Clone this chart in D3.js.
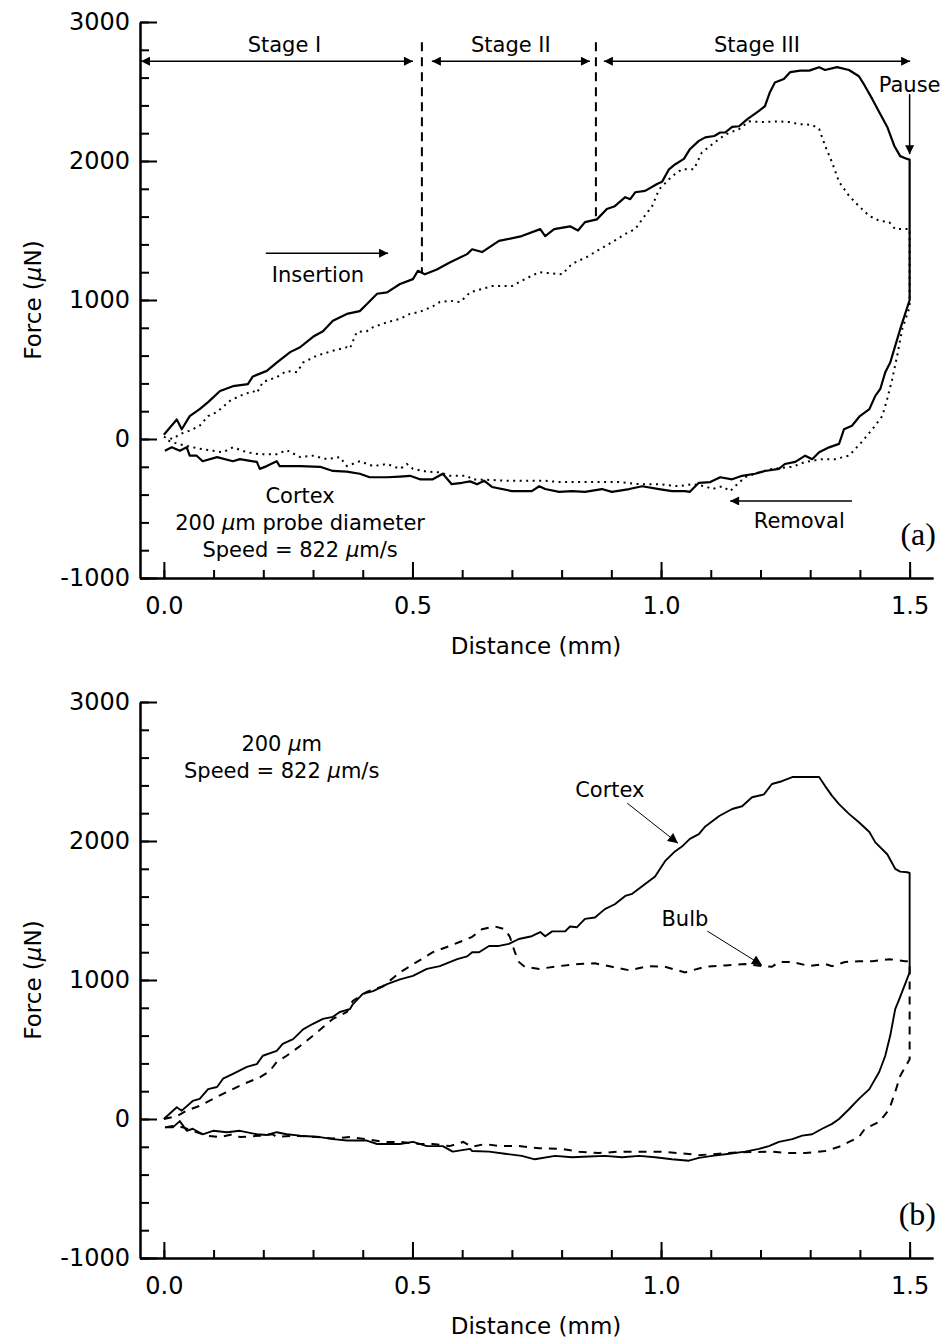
<!DOCTYPE html>
<html>
<head>
<meta charset="utf-8">
<script src="https://cdn.jsdelivr.net/npm/d3@7"></script>
<style>
body { margin: 0; background: #fff; }
svg text { font-family: "DejaVu Sans", sans-serif; fill: #000; }
</style>
</head>
<body>
<script>
// distance (mm), force (uN)

// (a) cortex, solid line
const cortexInA = [[0.000,30],[0.026,140],[0.036,70],[0.052,165],[0.072,215],[0.089,265],[0.113,345],[0.139,380],[0.169,395],[0.179,450],[0.207,490],[0.227,550],[0.254,625],[0.274,660],[0.300,735],[0.320,775],[0.340,850],[0.368,900],[0.394,920],[0.408,970],[0.429,1045],[0.449,1055],[0.475,1115],[0.501,1150],[0.511,1210],[0.525,1185],[0.549,1220],[0.575,1270],[0.610,1330],[0.620,1365],[0.640,1345],[0.674,1425],[0.720,1460],[0.757,1510],[0.767,1460],[0.785,1510],[0.817,1530],[0.833,1500],[0.847,1560],[0.871,1580],[0.891,1655],[0.907,1675],[0.928,1740],[0.938,1725],[0.948,1775],[0.968,1785],[0.992,1835],[1.002,1850],[1.016,1940],[1.028,1975],[1.046,2015],[1.058,2085],[1.076,2145],[1.089,2170],[1.107,2180],[1.119,2205],[1.129,2205],[1.143,2245],[1.157,2250],[1.173,2300],[1.197,2360],[1.209,2395],[1.219,2495],[1.229,2565],[1.247,2590],[1.260,2640],[1.280,2650],[1.298,2650],[1.318,2675],[1.330,2655],[1.354,2675],[1.378,2655],[1.398,2610],[1.410,2540],[1.425,2445],[1.439,2350],[1.455,2245],[1.469,2110],[1.481,2035],[1.495,2015],[1.500,2010]];
const cortexOutA = [[1.500,1000],[1.481,790],[1.471,670],[1.461,550],[1.451,480],[1.441,360],[1.431,310],[1.419,215],[1.400,165],[1.384,95],[1.368,70],[1.358,-35],[1.338,-60],[1.318,-95],[1.304,-145],[1.290,-120],[1.270,-165],[1.249,-180],[1.237,-215],[1.209,-230],[1.189,-250],[1.163,-265],[1.143,-290],[1.119,-275],[1.099,-310],[1.076,-315],[1.058,-380],[1.048,-375],[1.022,-375],[0.996,-360],[0.962,-340],[0.936,-360],[0.901,-380],[0.881,-360],[0.847,-380],[0.821,-375],[0.795,-380],[0.767,-360],[0.755,-340],[0.740,-375],[0.700,-375],[0.660,-345],[0.644,-300],[0.630,-325],[0.616,-305],[0.600,-315],[0.579,-325],[0.561,-250],[0.541,-290],[0.515,-290],[0.495,-265],[0.475,-270],[0.449,-275],[0.414,-275],[0.394,-250],[0.368,-235],[0.340,-230],[0.314,-200],[0.274,-195],[0.233,-195],[0.227,-160],[0.207,-195],[0.193,-215],[0.187,-165],[0.153,-145],[0.139,-160],[0.107,-130],[0.078,-160],[0.066,-120],[0.052,-120],[0.046,-60],[0.032,-85],[0.016,-60],[0.002,-85]];

// (a) second run, dotted line
const dottedInA = [[0.000,15],[0.018,0],[0.032,35],[0.052,60],[0.072,95],[0.089,165],[0.107,195],[0.133,275],[0.153,310],[0.179,345],[0.187,330],[0.199,410],[0.227,445],[0.247,490],[0.268,480],[0.280,550],[0.308,600],[0.340,635],[0.368,660],[0.374,650],[0.388,770],[0.408,775],[0.421,805],[0.449,840],[0.475,865],[0.495,900],[0.515,915],[0.541,955],[0.555,985],[0.575,995],[0.596,985],[0.616,1055],[0.660,1100],[0.700,1100],[0.726,1150],[0.755,1200],[0.801,1185],[0.821,1260],[0.851,1310],[0.877,1365],[0.901,1415],[0.928,1475],[0.948,1510],[0.962,1580],[0.982,1675],[0.996,1795],[1.022,1890],[1.042,1940],[1.066,1940],[1.082,2060],[1.103,2120],[1.129,2190],[1.157,2230],[1.177,2285],[1.203,2280],[1.237,2285],[1.258,2280],[1.278,2265],[1.304,2260],[1.318,2230],[1.330,2110],[1.344,1990],[1.358,1850],[1.378,1750],[1.398,1675],[1.419,1605],[1.439,1570],[1.459,1560],[1.471,1510],[1.491,1510],[1.500,1510]];
const dottedOutA = [[1.500,950],[1.485,790],[1.475,600],[1.465,430],[1.455,290],[1.445,165],[1.425,70],[1.404,-20],[1.378,-120],[1.350,-145],[1.324,-145],[1.290,-165],[1.264,-200],[1.223,-215],[1.197,-240],[1.169,-275],[1.149,-340],[1.139,-375],[1.123,-340],[1.103,-360],[1.089,-340],[1.062,-325],[1.036,-340],[0.996,-325],[0.956,-325],[0.915,-310],[0.875,-310],[0.835,-310],[0.795,-310],[0.767,-300],[0.726,-300],[0.686,-300],[0.660,-295],[0.620,-290],[0.610,-265],[0.575,-265],[0.555,-240],[0.529,-235],[0.501,-215],[0.489,-180],[0.475,-215],[0.449,-180],[0.421,-195],[0.394,-160],[0.368,-195],[0.354,-130],[0.328,-145],[0.300,-120],[0.274,-130],[0.247,-80],[0.227,-110],[0.193,-110],[0.167,-95],[0.139,-60],[0.119,-95],[0.099,-85],[0.072,-70],[0.046,-50],[0.018,-25],[0.002,0]];

// (b) cortex, solid line
const cortexInB = [[0.000,0],[0.026,85],[0.036,60],[0.058,130],[0.072,145],[0.089,215],[0.107,230],[0.119,290],[0.139,325],[0.167,375],[0.187,395],[0.199,455],[0.227,490],[0.239,540],[0.260,575],[0.280,645],[0.300,685],[0.320,720],[0.340,735],[0.354,770],[0.374,790],[0.380,825],[0.400,900],[0.421,920],[0.449,970],[0.475,1005],[0.501,1030],[0.529,1080],[0.555,1100],[0.590,1150],[0.610,1170],[0.620,1200],[0.634,1200],[0.654,1245],[0.674,1245],[0.694,1260],[0.714,1295],[0.740,1315],[0.757,1345],[0.767,1315],[0.781,1350],[0.807,1350],[0.817,1385],[0.831,1380],[0.847,1440],[0.867,1450],[0.887,1510],[0.907,1545],[0.928,1605],[0.942,1620],[0.968,1690],[0.988,1745],[1.008,1855],[1.028,1925],[1.042,1960],[1.058,2015],[1.076,2050],[1.089,2105],[1.117,2180],[1.143,2230],[1.163,2250],[1.183,2315],[1.207,2335],[1.223,2410],[1.243,2430],[1.264,2460],[1.290,2460],[1.318,2460],[1.330,2395],[1.344,2325],[1.358,2265],[1.378,2195],[1.398,2135],[1.419,2065],[1.431,1990],[1.455,1905],[1.471,1800],[1.481,1780],[1.495,1775],[1.500,1770]];
const cortexOutB = [[1.500,1055],[1.479,860],[1.471,790],[1.461,600],[1.451,455],[1.439,340],[1.419,215],[1.398,145],[1.378,70],[1.358,0],[1.344,-35],[1.324,-70],[1.304,-110],[1.284,-120],[1.264,-145],[1.237,-165],[1.217,-195],[1.197,-215],[1.169,-235],[1.137,-250],[1.103,-265],[1.076,-280],[1.056,-300],[1.022,-290],[0.988,-275],[0.956,-265],[0.922,-275],[0.887,-265],[0.855,-270],[0.821,-275],[0.787,-265],[0.746,-290],[0.720,-265],[0.686,-250],[0.654,-235],[0.620,-230],[0.616,-215],[0.581,-235],[0.561,-195],[0.529,-195],[0.501,-165],[0.475,-180],[0.429,-180],[0.408,-155],[0.368,-155],[0.340,-145],[0.314,-130],[0.274,-120],[0.247,-110],[0.227,-95],[0.207,-115],[0.187,-110],[0.153,-85],[0.127,-95],[0.099,-85],[0.078,-110],[0.058,-70],[0.046,-85],[0.032,-15],[0.018,-60],[0.002,-60]];

// (b) bulb, dashed line
const bulbInB = [[0.000,0],[0.026,20],[0.046,60],[0.072,95],[0.099,145],[0.127,195],[0.159,250],[0.193,300],[0.213,345],[0.227,410],[0.247,455],[0.274,525],[0.300,600],[0.320,660],[0.340,720],[0.368,770],[0.380,850],[0.408,915],[0.441,955],[0.475,1055],[0.509,1130],[0.541,1200],[0.575,1245],[0.610,1295],[0.620,1310],[0.640,1365],[0.666,1385],[0.686,1365],[0.696,1310],[0.706,1200],[0.714,1130],[0.726,1095],[0.755,1080],[0.795,1100],[0.835,1115],[0.867,1120],[0.901,1095],[0.936,1070],[0.976,1100],[1.008,1095],[1.048,1055],[1.089,1095],[1.129,1105],[1.169,1115],[1.203,1100],[1.223,1095],[1.237,1130],[1.264,1130],[1.298,1100],[1.330,1115],[1.344,1100],[1.370,1130],[1.398,1135],[1.425,1135],[1.459,1150],[1.491,1135],[1.500,1135]];
const bulbOutB = [[1.500,430],[1.481,310],[1.471,195],[1.459,70],[1.439,-20],[1.410,-70],[1.398,-130],[1.378,-165],[1.358,-200],[1.330,-230],[1.290,-245],[1.258,-245],[1.223,-235],[1.157,-240],[1.117,-250],[1.076,-260],[1.036,-245],[0.996,-235],[0.915,-235],[0.875,-245],[0.835,-235],[0.801,-215],[0.755,-210],[0.714,-195],[0.674,-195],[0.646,-180],[0.620,-200],[0.602,-165],[0.575,-195],[0.541,-180],[0.515,-180],[0.475,-165],[0.441,-165],[0.408,-145],[0.374,-130],[0.340,-140],[0.308,-130],[0.260,-120],[0.227,-130],[0.219,-110],[0.193,-120],[0.153,-130],[0.139,-110],[0.113,-130],[0.087,-120],[0.066,-95],[0.038,-60],[0.018,-50],[0.002,-60]];

const xMajor = [0, 0.5, 1.0, 1.5];
const yMajor = [-1000, 0, 1000, 2000, 3000];
const stageBounds = [0.519, 0.869];
const stageLabels = ["Stage I", "Stage II", "Stage III"];

const svg = d3.select("body")
	.append("svg")
	.attr("width", 944)
	.attr("height", 1341);

const defs = svg.append("defs");
defs.append("marker")
	.attr("id", "head")
	.attr("viewBox", "0 0 10 10")
	.attr("refX", 10).attr("refY", 5)
	.attr("markerUnits", "userSpaceOnUse")
	.attr("markerWidth", 13).attr("markerHeight", 9)
	.attr("orient", "auto-start-reverse")
	.append("path").attr("d", "M0,0L10,5L0,10z").attr("fill", "#000");
defs.append("marker")
	.attr("id", "head2")
	.attr("viewBox", "0 0 10 10")
	.attr("refX", 10).attr("refY", 5)
	.attr("markerUnits", "userSpaceOnUse")
	.attr("markerWidth", 14).attr("markerHeight", 10)
	.attr("orient", "auto")
	.append("path").attr("d", "M0,0L10,5L0,10z").attr("fill", "#000");

const x = d3.scaleLinear().domain([-0.048, 1.547]).range([140, 933]);
const y = d3.scaleLinear().domain([-1000, 3000]).range([578, 22]);
const line = d3.line().x(d => x(d[0])).y(d => y(d[1]));

function axes(g) {
	const style = a => a.attr("font-family", "DejaVu Sans").attr("font-size", 24)
		.call(s => s.selectAll("line, path").attr("stroke", "#000").attr("stroke-width", 2));
	g.append("g").attr("transform", "translate(0,578)")
		.call(d3.axisBottom(x).tickValues(d3.range(0, 1.55, 0.1)).tickSizeInner(-8).tickSizeOuter(0).tickFormat(""))
		.call(style);
	g.append("g").attr("transform", "translate(0,578)")
		.call(d3.axisBottom(x).tickValues(xMajor).tickSizeInner(-16).tickSizeOuter(0).tickPadding(19).tickFormat(d3.format(".1f")))
		.call(style);
	g.append("g").attr("transform", "translate(140,0)")
		.call(d3.axisLeft(y).tickValues(d3.range(-1000, 3001, 200)).tickSizeInner(-9).tickSizeOuter(0).tickFormat(""))
		.call(style);
	g.append("g").attr("transform", "translate(140,0)")
		.call(d3.axisLeft(y).tickValues(yMajor).tickSizeInner(-17).tickSizeOuter(0).tickPadding(10).tickFormat(d => String(d)))
		.call(style);

	g.append("text")
		.attr("transform", "translate(41,300) rotate(-90)")
		.attr("text-anchor", "middle")
		.attr("font-size", 23)
		.call(t => {
			t.append("tspan").text("Force (");
			t.append("tspan").attr("font-style", "italic").text("\u03bc");
			t.append("tspan").text("N)");
		});
	g.append("text")
		.attr("x", 536).attr("y", 654)
		.attr("text-anchor", "middle")
		.attr("font-size", 23)
		.text("Distance (mm)");
}

// text with an italic mu
function muText(g, xv, yv, before, after, size) {
	const t = g.append("text")
		.attr("x", x(xv)).attr("y", y(yv))
		.attr("text-anchor", "middle")
		.attr("font-size", size || 21);
	t.append("tspan").text(before);
	t.append("tspan").attr("font-style", "italic").text("\u03bc");
	t.append("tspan").text(after);
	return t;
}

function label(g, xv, yv, txt, anchor) {
	return g.append("text")
		.attr("x", x(xv)).attr("y", y(yv))
		.attr("text-anchor", anchor || "middle")
		.attr("font-size", 21)
		.text(txt);
}

function arrow(g, x1, y1, x2, y2, w, both) {
	return g.append("line")
		.attr("x1", x(x1)).attr("y1", y(y1))
		.attr("x2", x(x2)).attr("y2", y(y2))
		.attr("stroke", "#000")
		.attr("stroke-width", w)
		.attr("marker-end", "url(#head)")
		.attr("marker-start", both ? "url(#head)" : null);
}

// ---- panel (a)
const ga = svg.append("g");
axes(ga);

ga.append("path")
	.datum(dottedInA.concat(dottedOutA))
	.attr("d", line)
	.attr("fill", "none")
	.attr("stroke", "#000")
	.attr("stroke-width", 2)
	.attr("stroke-dasharray", "2,4.5");
ga.append("path")
	.datum(cortexInA.concat(cortexOutA))
	.attr("d", line)
	.attr("fill", "none")
	.attr("stroke", "#000")
	.attr("stroke-width", 2.2)
	.attr("stroke-linejoin", "round");

// stage dividers
ga.selectAll(".stage")
	.data(stageBounds)
	.enter()
	.append("line")
	.attr("x1", d => x(d)).attr("x2", d => x(d))
	.attr("y1", y(2855))
	.attr("y2", (d, i) => y(i == 0 ? 1200 : 1590))
	.attr("stroke", "#000")
	.attr("stroke-width", 2)
	.attr("stroke-dasharray", "9,6");

const stageEnds = [[-0.046, 0.501], [0.539, 0.857], [0.885, 1.501]];
stageEnds.forEach((s, i) => {
	arrow(ga, s[0], 2718, s[1], 2718, 1.5, true);
	label(ga, (s[0] + s[1]) / 2 + (i == 0 ? 0.015 : 0), 2783, stageLabels[i]);
});

label(ga, 1.5, 2495, "Pause");
arrow(ga, 1.5, 2481, 1.5, 2049, 1.5);

arrow(ga, 0.205, 1337, 0.451, 1337, 1.5);
label(ga, 0.310, 1129, "Insertion");

arrow(ga, 1.384, -446, 1.139, -446, 1.5);
label(ga, 1.278, -640, "Removal");

label(ga, 0.274, -460, "Cortex");
muText(ga, 0.274, -654, "200 ", "m probe diameter");
muText(ga, 0.274, -848, "Speed = 822 ", "m/s");

ga.append("text")
	.attr("x", x(1.553)).attr("y", y(-762))
	.attr("text-anchor", "end")
	.attr("font-size", 32)
	.style("font-family", "'Liberation Serif', serif")
	.text("(a)");

// ---- panel (b)
const gb = svg.append("g").attr("transform", "translate(0,680)");
axes(gb);

gb.append("path")
	.datum(bulbInB.concat(bulbOutB))
	.attr("d", line)
	.attr("fill", "none")
	.attr("stroke", "#000")
	.attr("stroke-width", 2)
	.attr("stroke-dasharray", "8,7");
gb.append("path")
	.datum(cortexInB.concat(cortexOutB))
	.attr("d", line)
	.attr("fill", "none")
	.attr("stroke", "#000")
	.attr("stroke-width", 1.9)
	.attr("stroke-linejoin", "round");

muText(gb, 0.237, 2646, "200 ", "m");
muText(gb, 0.237, 2452, "Speed = 822 ", "m/s");

label(gb, 0.897, 2315, "Cortex");
arrow(gb, 0.932, 2272, 1.034, 1984, 1).attr("marker-end", "url(#head2)");
label(gb, 1.048, 1388, "Bulb");
arrow(gb, 1.093, 1352, 1.203, 1107, 1).attr("marker-end", "url(#head2)");

gb.append("text")
	.attr("x", x(1.553)).attr("y", y(-762))
	.attr("text-anchor", "end")
	.attr("font-size", 32)
	.style("font-family", "'Liberation Serif', serif")
	.text("(b)");
</script>
</body>
</html>
